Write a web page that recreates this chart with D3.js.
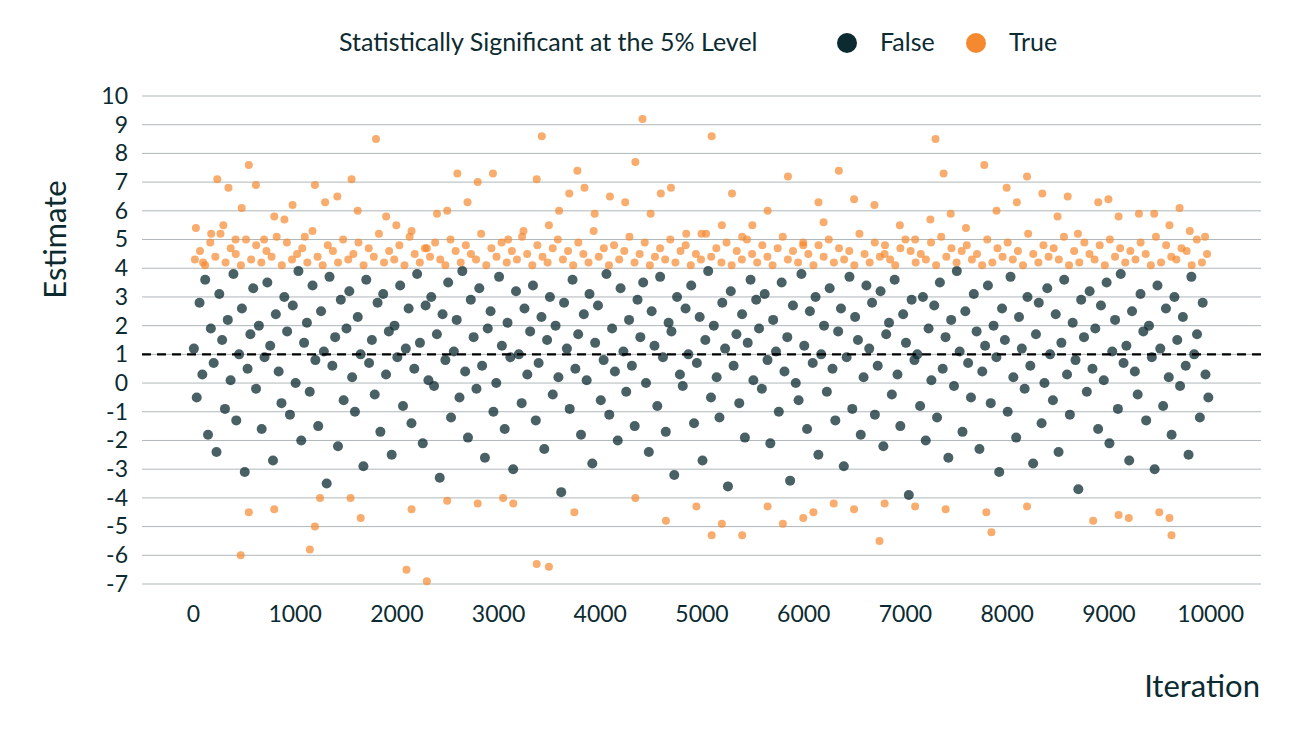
<!DOCTYPE html>
<html><head><meta charset="utf-8">
<script src="https://cdn.jsdelivr.net/npm/d3@7.9.0/dist/d3.min.js"></script>
<style>body{margin:0;background:#fff;font-family:Lato,sans-serif;}</style>
</head><body><svg id="c" width="1300" height="740"></svg>
<script>
const yTicks = [-7,-6,-5,-4,-3,-2,-1,0,1,2,3,4,5,6,7,8,9,10];
const xTicks = [0,1000,2000,3000,4000,5000,6000,7000,8000,9000,10000];

// significant points: [iteration, estimate]
const sigHigh = [[30,5.4],[100,4.2],[180,5.2],[240,7.1],[300,5.5],[350,6.8],[420,5.0],[480,6.1],[550,7.6],[620,6.9],[700,5.0],[800,5.8],[900,5.7],[980,6.2],[1100,5.1],[1200,6.9],[1300,6.3],[1420,6.5],[1560,7.1],[1620,6.0],[1800,8.5],[1900,5.8],[2000,5.5],[2150,5.3],[2300,4.7],[2400,5.9],[2500,6.0],[2600,7.3],[2700,6.3],[2800,7.0],[2950,7.3],[3100,5.0],[3250,5.3],[3380,7.1],[3430,8.6],[3500,5.5],[3600,6.0],[3700,6.6],[3780,7.4],[3850,6.8],[3950,5.9],[4100,6.5],[4250,6.3],[4350,7.7],[4420,9.2],[4500,5.9],[4600,6.6],[4700,6.8],[4850,5.2],[5000,5.2],[5100,8.6],[5200,5.5],[5300,6.6],[5400,5.1],[5500,5.5],[5650,6.0],[5850,7.2],[6000,4.8],[6150,6.3],[6200,5.6],[6350,7.4],[6500,6.4],[6700,6.2],[6800,4.5],[6950,5.5],[7100,5.0],[7250,5.7],[7300,8.5],[7380,7.3],[7450,5.9],[7600,5.4],[7780,7.6],[7900,6.0],[8000,6.8],[8100,6.3],[8200,7.2],[8350,6.6],[8500,5.8],[8600,6.5],[8700,5.2],[8900,6.3],[9000,6.4],[9100,5.8],[9300,5.9],[9450,5.9],[9600,5.5],[9700,6.1],[9800,5.3],[9950,5.1]];
const sigLow = [[470,-6.0],[550,-4.5],[800,-4.4],[1150,-5.8],[1200,-5.0],[1250,-4.0],[1550,-4.0],[1650,-4.7],[2100,-6.5],[2150,-4.4],[2300,-6.9],[2500,-4.1],[2800,-4.2],[3050,-4.0],[3150,-4.2],[3380,-6.3],[3500,-6.4],[3750,-4.5],[4350,-4.0],[4650,-4.8],[4950,-4.3],[5100,-5.3],[5200,-4.9],[5400,-5.3],[5650,-4.3],[5800,-4.9],[6000,-4.7],[6100,-4.5],[6300,-4.2],[6500,-4.4],[6750,-5.5],[6800,-4.2],[7100,-4.3],[7400,-4.4],[7800,-4.5],[7850,-5.2],[8200,-4.3],[8850,-4.8],[9100,-4.6],[9200,-4.7],[9500,-4.5],[9600,-4.7],[9620,-5.3]];
// estimates just above 4, spread evenly over the iterations
const sigNear = [4.3,4.6,4.1,4.9,4.4,5.2,4.2,4.7,4.5,4.1,5.0,4.3,4.8,4.2,4.6,4.4,5.1,4.1,4.9,4.3,4.5,4.7,4.2,5.3,4.4,4.1,4.8,4.6,4.2,5.0,4.3,4.5,4.9,4.1,4.7,4.4,5.2,4.2,4.6,4.3,4.8,4.1,5.1,4.5,4.2,4.7,4.4,4.9,4.3,4.1,5.0,4.6,4.2,4.8,4.5,4.3,5.2,4.1,4.7,4.4,4.9,4.2,4.6,4.3,5.1,4.5,4.1,4.8,4.4,4.2,4.7,5.0,4.3,4.6,4.1,4.9,4.5,4.2,5.3,4.4,4.7,4.1,4.8,4.3,4.6,5.1,4.2,4.5,4.9,4.1,4.4,4.7,4.3,5.0,4.2,4.6,4.8,4.1,4.5,4.3,5.2,4.4,4.7,4.2,4.9,4.1,4.6,4.3,5.0,4.5,4.2,4.8,4.4,4.1,4.7,5.1,4.3,4.6,4.2,4.9,4.5,4.1,4.8,4.4,5.0,4.2,4.7,4.3,4.6,4.1,5.2,4.5,4.2,4.9,4.4,4.8,4.3,4.1,4.7,5.0,4.6,4.2,4.5,4.3,4.9,4.1,5.1,4.4,4.7,4.2,4.6,4.8,4.3,4.5,4.1,5.0,4.2,4.7,4.4,4.9,4.3,4.6,4.1,5.2,4.5,4.2,4.8,4.4,4.7,4.3,5.1,4.1,4.6,4.2,4.9,4.5,4.3,4.8,4.1,5.0,4.4,4.7,4.2,4.6,4.3,4.9,4.5,4.1,5.1,4.2,4.8,4.4,4.3,4.7,4.6,4.1,5.0,4.2,4.5];
// non-significant estimates, spread evenly over the iterations
const nonSig = `1.2 -0.5 2.8 0.3 3.6 -1.8 1.9 0.7 -2.4 3.1 1.5 -0.9 2.2 0.1 3.8 -1.3 1.0 2.6 -3.1 0.5 1.7 3.3 -0.2 2.0 -1.6 0.9 3.5 1.3 -2.7 2.4 0.4 -0.7 3.0 1.8 -1.1 2.7 0.0 3.9 -2.0 1.4
2.1 -0.3 3.4 0.8 -1.5 2.5 1.1 -3.5 3.7 0.6 1.6 -2.2 2.9 -0.6 1.9 3.2 0.2 -1.0 2.3 1.0 -2.9 3.6 0.7 1.5 -0.4 2.8 -1.7 3.1 0.3 1.8 -2.5 2.0 0.9 3.4 -0.8 1.2 2.6 -1.4 0.5 3.8
1.4 -2.1 2.7 0.1 3.0 -0.1 1.7 -3.3 2.4 0.8 3.5 -1.2 1.1 2.2 -0.5 3.9 0.4 -1.9 2.9 1.6 -0.2 3.3 0.6 -2.6 1.9 2.5 -1.0 0.0 3.7 1.3 -1.6 2.1 0.9 -3.0 3.2 1.0 -0.7 2.6 0.3 1.8
3.4 -1.3 0.7 2.3 -2.3 1.5 3.0 -0.4 2.0 0.2 -3.8 2.8 1.2 -0.9 3.6 0.5 1.7 -1.8 2.4 0.1 3.1 -2.8 1.4 2.7 -0.6 0.8 3.8 -1.1 1.9 0.4 -2.0 3.3 1.1 -0.3 2.2 0.6 -1.5 2.9 1.6 3.5
0.0 -2.4 2.5 1.3 -0.8 3.7 0.9 -1.7 2.1 1.8 -3.2 3.0 0.3 -0.1 2.6 1.0 3.4 -1.4 0.7 2.3 -2.7 1.5 3.9 -0.5 2.0 0.2 -1.2 2.8 1.2 -3.6 3.2 0.6 1.7 -0.7 2.4 -1.9 1.4 3.6 0.1 2.9
1.9 -0.2 3.1 0.8 -2.1 2.2 1.1 -1.0 3.5 0.4 1.6 -3.4 2.7 0.0 -0.6 3.8 1.3 -1.6 2.5 0.7 3.0 -2.5 1.0 2.0 -0.3 3.3 0.5 -1.3 1.8 2.6 -2.9 0.9 3.7 -0.9 2.3 1.5 -1.8 0.2 3.4 1.2
2.8 -1.1 0.6 3.2 -2.2 1.7 2.1 -0.4 3.6 0.3 -1.5 2.4 1.4 -3.9 2.9 0.8 1.0 -0.8 3.0 -2.0 1.9 0.1 2.7 -1.2 3.5 0.5 1.6 -2.6 2.2 -0.1 3.9 1.1 -1.7 2.5 0.7 -0.5 3.1 1.8 -2.3 0.4
1.3 3.4 -0.7 2.0 0.9 -3.1 2.6 1.5 -1.0 3.7 0.2 -1.9 2.3 1.2 -0.2 3.0 0.6 -2.8 1.7 2.8 -1.4 0.0 3.3 1.0 -0.6 2.4 -2.4 1.4 3.6 0.3 -1.1 2.1 0.8 -3.7 2.9 1.6 -0.3 3.2 0.5 1.9
-1.6 2.7 0.1 3.5 -2.1 1.1 2.2 -0.9 3.8 0.7 1.3 -2.7 2.5 0.4 -0.4 3.1 1.8 -1.3 2.0 0.9 -3.0 3.4 1.2 -0.8 2.6 0.2 -1.8 3.0 1.5 -0.1 2.3 0.6 -2.5 3.7 1.0 1.7 -1.2 2.8 0.3 -0.5`
  .trim().split(/\s+/).map(Number);

const ink = '#0c2b31', orange = '#f5892f';
const svg = d3.select('#c');
const x = d3.scaleLinear().domain([-500, 10500]).range([142, 1261]);
const y = d3.scaleLinear().domain([-7, 10]).range([584, 96]);

svg.append('g').selectAll('line').data(yTicks).join('line')
  .attr('x1', 142).attr('x2', 1261)
  .attr('y1', d => y(d)).attr('y2', d => y(d))
  .attr('stroke', '#9aa5a8').attr('stroke-width', 0.8);

const yAxis = svg.append('g').attr('transform', 'translate(142,0)')
  .call(d3.axisLeft(y).tickValues(yTicks).tickSize(0).tickPadding(14).tickFormat(d => String(d)));
const xAxis = svg.append('g').attr('transform', 'translate(0,584)')
  .call(d3.axisBottom(x).tickValues(xTicks).tickSize(0).tickPadding(22).tickFormat(d => String(d)));
[yAxis, xAxis].forEach(a => {
  a.select('.domain').remove();
  a.selectAll('text').attr('fill', ink).style('font-family', 'Lato').style('font-size', '23px');
});

const pts = [];
const stepD = 10000 / nonSig.length, stepN = 10000 / sigNear.length;
nonSig.forEach((v, i) => pts.push({ it: i * stepD + 10, est: v, sig: false }));
sigNear.forEach((v, i) => pts.push({ it: i * stepN + 20, est: v, sig: true }));
sigHigh.concat(sigLow).forEach(([a, b]) => pts.push({ it: a, est: b, sig: true }));

svg.append('g').selectAll('circle').data(pts).join('circle')
  .attr('cx', d => x(d.it)).attr('cy', d => y(d.est)).attr('r', d => d.sig ? 4 : 5)
  .attr('fill', d => d.sig ? orange : ink).attr('fill-opacity', d => d.sig ? 0.7 : 0.75);

svg.append('line').attr('x1', 142).attr('x2', 1261)
  .attr('y1', y(1)).attr('y2', y(1))
  .attr('stroke', '#000').attr('stroke-width', 2.2).attr('stroke-dasharray', '9,6');

svg.append('text').attr('transform', `translate(66,${y(5)}) rotate(-90)`)
  .attr('text-anchor', 'middle').attr('fill', ink).style('font-size', '31px').text('Estimate');
svg.append('text').attr('x', 1260).attr('y', 697).attr('text-anchor', 'end')
  .attr('fill', ink).style('font-size', '31px').text('Iteration');

const lg = svg.append('g').style('font-size', '25px').attr('fill', ink);
lg.append('text').attr('x', 339).attr('y', 51).text('Statistically Significant at the 5% Level');
lg.append('circle').attr('cx', 847).attr('cy', 43).attr('r', 10).attr('fill', ink);
lg.append('text').attr('x', 880).attr('y', 51).text('False');
lg.append('circle').attr('cx', 976).attr('cy', 43).attr('r', 10).attr('fill', orange);
lg.append('text').attr('x', 1009).attr('y', 51).text('True');
</script></body></html>
